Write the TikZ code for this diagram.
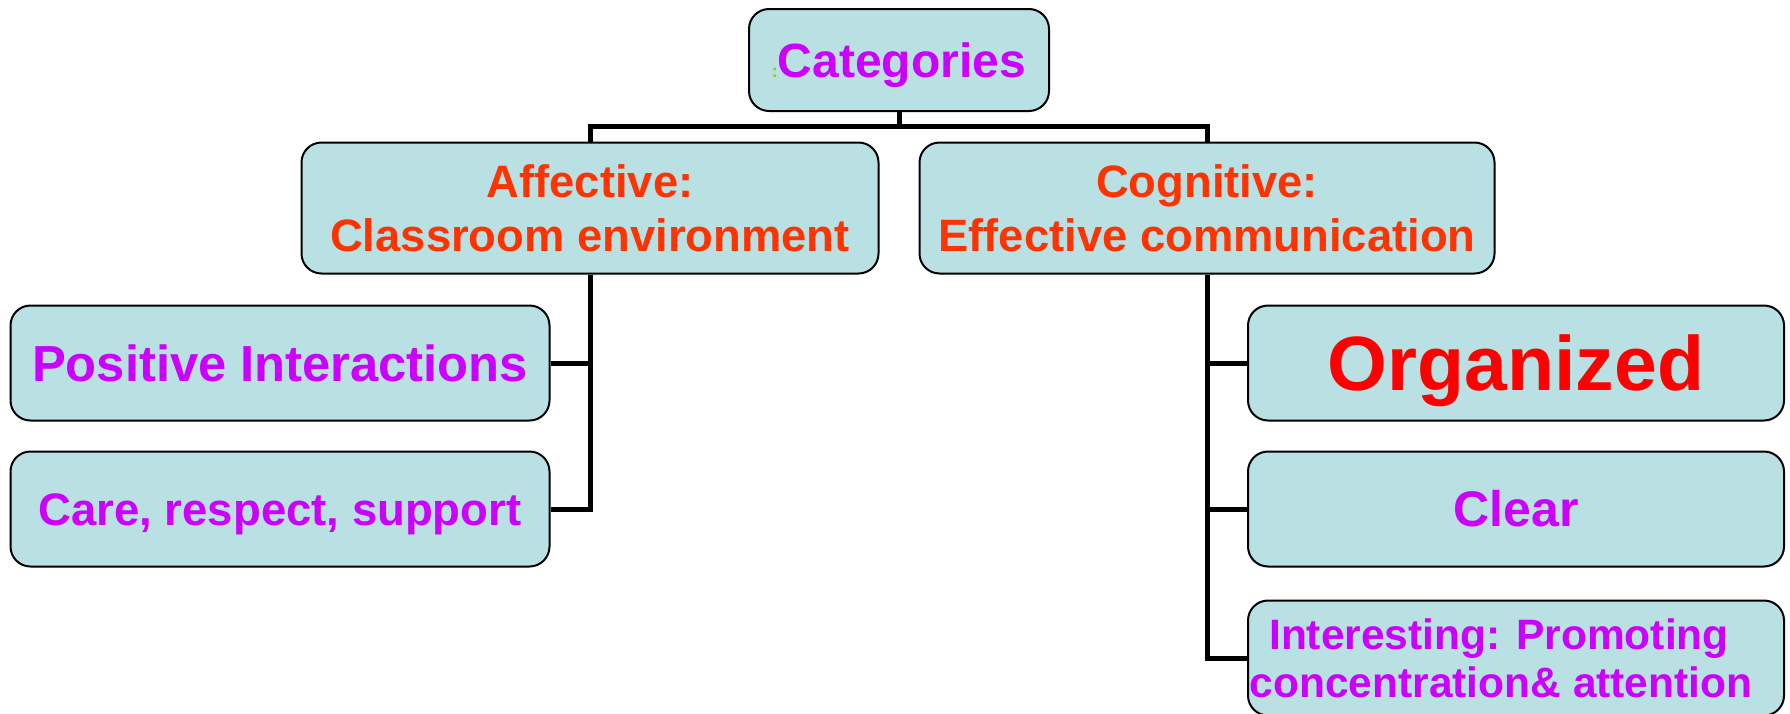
\documentclass[tikz,border=0pt]{standalone}
\usepackage{fontspec}
\setmainfont{Liberation Sans}
\definecolor{boxfill}{RGB}{185,224,227}
\definecolor{purp}{RGB}{204,0,255}
\definecolor{orng}{RGB}{255,51,0}
\definecolor{pureRed}{RGB}{255,0,0}
\definecolor{lgreen}{RGB}{153,204,0}
\begin{document}
\begin{tikzpicture}[x=1pt,y=-1pt,
  box/.style={draw=black,line width=2pt,fill=boxfill,rounded corners=20pt,
    inner sep=0pt,align=center},
  conn/.style={draw=black,line width=5pt}]
\useasboundingbox (0,0) rectangle (1790,713);
\node[box,text height=34.4pt,text depth=0pt,minimum width=300pt,minimum height=102pt,
  font={\bfseries\fontsize{48}{54}\selectfont}] (cat) at (899,60)
  {\textcolor{lgreen}{\fontsize{18}{18}\selectfont :}\textcolor{purp}{Categories}};
\node[box,minimum width=577pt,minimum height=131pt,text=orng,
  font={\bfseries\fontsize{45.4}{54}\selectfont}] (aff) at (590,208)
  {Affective:\\Classroom environment};
\node[box,minimum width=575pt,minimum height=131pt,text=orng,
  font={\bfseries\fontsize{45.4}{54}\selectfont}] (cog) at (1207,208)
  {Cognitive:\\Effective communication};
\node[box,text height=36.3pt,text depth=0pt,minimum width=539pt,minimum height=115pt,text=purp,
  font={\bfseries\fontsize{50.7}{56}\selectfont}] (pos) at (280,363)
  {Positive Interactions};
\node[box,text height=32.6pt,text depth=0pt,minimum width=539pt,minimum height=115pt,text=purp,
  font={\bfseries\fontsize{45.5}{52}\selectfont}] (care) at (280,509)
  {Care, respect, support};
\node[box,text height=55.1pt,text depth=0pt,minimum width=536pt,minimum height=115pt,text=pureRed,
  font={\bfseries\fontsize{77}{80}\selectfont}] (org) at (1516,363)
  {Organized};
\node[box,text height=35.8pt,text depth=0pt,minimum width=536pt,minimum height=115pt,text=purp,
  font={\bfseries\fontsize{50}{52}\selectfont}] (clear) at (1516,509)
  {Clear};
\node[box,minimum width=536pt,minimum height=115pt,text=purp,
  font={\bfseries\fontsize{42.5}{48}\selectfont}] (int) at (1516,658)
  {Interesting: Promoting\hspace*{34pt}\\concentration\& attention\hspace*{30pt}};
\coordinate (bar) at (899,126);
\draw[conn] (cat.south) -- (bar);
\draw[conn] (aff.north) |- (bar);
\draw[conn] (cog.north) |- (bar);
\draw[conn] (aff.south) |- (pos.east);
\draw[conn] (aff.south) |- (care.east);
\draw[conn] (cog.south) |- (org.west);
\draw[conn] (cog.south) |- (clear.west);
\draw[conn] (cog.south) |- (int.west);
\end{tikzpicture}
\end{document}
